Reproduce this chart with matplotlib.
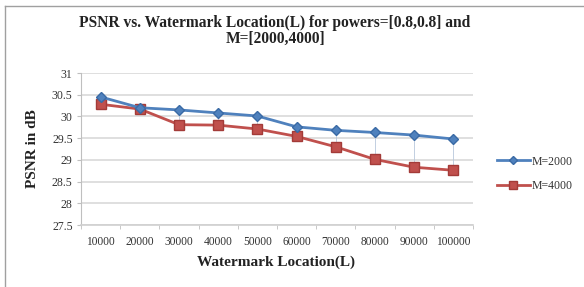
import matplotlib
matplotlib.use("Agg")
import matplotlib.pyplot as plt
from matplotlib.lines import Line2D
import numpy as np

locations = ["10000", "20000", "30000", "40000", "50000", "60000", "70000", "80000", "90000", "100000"]
psnr_m2000 = [30.45, 30.20, 30.15, 30.08, 30.01, 29.76, 29.68, 29.63, 29.57, 29.48]
psnr_m4000 = [30.28, 30.17, 29.81, 29.80, 29.71, 29.54, 29.30, 29.01, 28.83, 28.76]
series_labels = ["M=2000", "M=4000"]
y_ticks = [27.5, 28, 28.5, 29, 29.5, 30, 30.5, 31]
y_tick_labels = ["27.5", "28", "28.5", "29", "29.5", "30", "30.5", "31"]
title = "PSNR vs. Watermark Location(L) for powers=[0.8,0.8] and\nM=[2000,4000]"
xlabel = "Watermark Location(L)"
ylabel = "PSNR in dB"

W, H = 584, 287
fig = plt.figure(figsize=(W / 100, H / 100), dpi=100)
fig.patch.set_facecolor("white")
serif = ["Liberation Serif", "DejaVu Serif"]

ax = fig.add_axes([81 / W, 1 - 225 / H, (473 - 81) / W, (225 - 73) / H])
x = np.arange(len(locations))

# faint high-low lines
ax.vlines(x, psnr_m4000, psnr_m2000, colors="#b8c8dc", linewidth=0.6, zorder=2)

blue = "#4F81BD"
red = "#C0504D"
ax.plot(x, psnr_m2000, color=blue, linewidth=2.0, marker="D", markersize=5.5,
        markerfacecolor=blue, markeredgecolor="#3a6aa5", zorder=4, label=series_labels[0])
ax.plot(x, psnr_m4000, color=red, linewidth=2.0, marker="s", markersize=7.5,
        markerfacecolor=red, markeredgecolor="#a33b38", zorder=3, label=series_labels[1])

ax.set_xlim(-0.5, len(locations) - 0.5)
ax.set_ylim(27.5, 31)
ax.set_yticks(y_ticks)
ax.set_yticklabels(y_tick_labels, fontfamily=serif, fontsize=8.5, color="#333333")
ax.set_xticks(x)
ax.set_xticklabels(locations, fontfamily=serif, fontsize=8.3, color="#333333")
ax.set_xticks(np.arange(-0.5, len(locations), 1), minor=True)
ax.tick_params(axis="x", which="major", length=0, pad=8)
ax.tick_params(axis="x", which="minor", length=3, color="#bfbfbf", direction="out")
ax.tick_params(axis="y", length=3, color="#bfbfbf", pad=3)
ax.grid(axis="y", color="#d9d9d9", linewidth=1.2)
ax.set_axisbelow(True)
for s in ["top", "right"]:
    ax.spines[s].set_visible(False)
ax.spines["left"].set_color("#bfbfbf")
ax.spines["bottom"].set_color("#d0d0d0")
ax.spines["bottom"].set_linewidth(1.2)

fig.text(275 / W, 1 - 31 / H, title, ha="center", va="center", fontfamily=serif,
         fontweight="bold", fontsize=11.2, linespacing=1.0, color="#222222")
fig.text(276 / W, 1 - 262 / H, xlabel, ha="center", va="center", fontfamily=serif,
         fontweight="bold", fontsize=11, color="#222222")
fig.text(32 / W, 1 - 149 / H, ylabel, ha="center", va="center", rotation=90,
         fontfamily=serif, fontweight="bold", fontsize=11, color="#222222")

leg = ax.legend(loc="center left", bbox_to_anchor=(486 / W, 1 - 174 / H),
                bbox_transform=fig.transFigure, frameon=False,
                prop={"family": serif, "size": 8.5}, handlelength=2.8,
                handletextpad=0.2, labelspacing=1.1, markerscale=0.7)
for t in leg.get_texts():
    t.set_color("#333333")

# chart area border (left and top)
fig.add_artist(Line2D([5 / W, 5 / W], [0, 1 - 6 / H], transform=fig.transFigure,
                      color="#a0a0a0", linewidth=1.0))
fig.add_artist(Line2D([5 / W, 1], [1 - 6 / H, 1 - 6 / H], transform=fig.transFigure,
                      color="#a0a0a0", linewidth=1.0))

fig.savefig("out.png", dpi=100)
